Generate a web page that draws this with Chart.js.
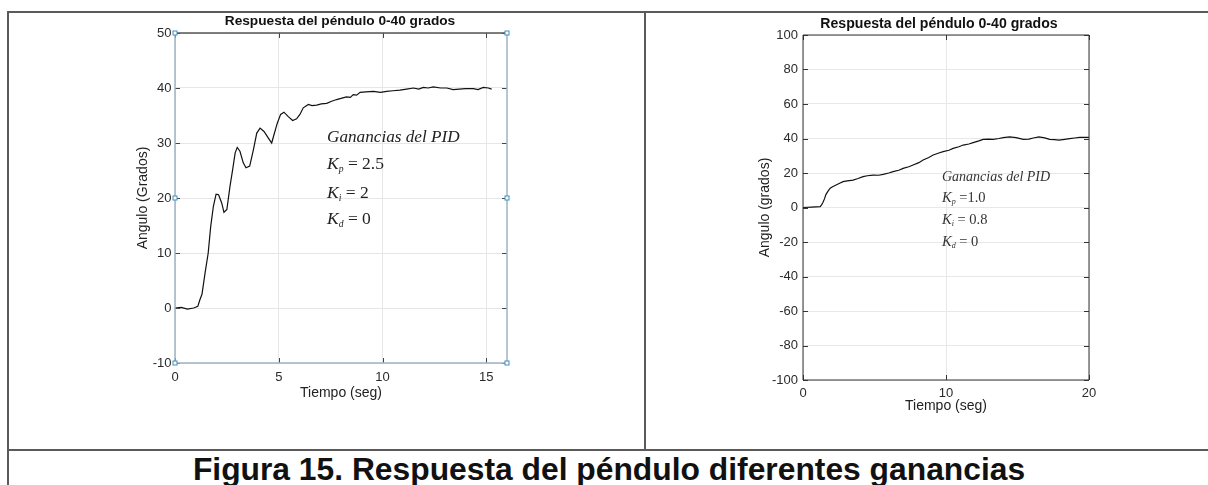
<!DOCTYPE html>
<html>
<head>
<meta charset="utf-8">
<script src="https://cdn.jsdelivr.net/npm/chart.js@4.4.0/dist/chart.umd.min.js"></script>
<style>
  body { margin: 0; background: #fff; width: 1208px; height: 485px; position: relative; overflow: hidden; font-family: "Liberation Sans", Arial, sans-serif; }
  .rule { position: absolute; background: #5a5a5a; }
  canvas { position: absolute; }
  .title { position: absolute; font-weight: bold; color: #111; white-space: nowrap; transform: translateX(-50%); line-height: 16px; }
  .gain { position: absolute; font-family: "Liberation Serif", "Times New Roman", serif; color: #222; white-space: nowrap; }
  .gain sub { font-size: 0.55em; font-style: italic; vertical-align: -0.3em; }
  .caption { position: absolute; left: 0; width: 1218px; top: 454px; text-align: center; font-weight: bold; font-size: 31.8px; line-height: 31.5px; color: #111; white-space: nowrap; }
</style>
</head>
<body>
<!-- page frame -->
<div class="rule" style="left:7px;top:11px;width:1201px;height:2px"></div>
<div class="rule" style="left:7px;top:11px;width:2px;height:474px"></div>
<div class="rule" style="left:644px;top:11px;width:2px;height:439px"></div>
<div class="rule" style="left:7px;top:449px;width:1201px;height:2px"></div>

<canvas id="leftChart" width="405" height="400" style="left:115px;top:12px"></canvas>
<canvas id="rightChart" width="380" height="420" style="left:740px;top:12px"></canvas>

<div class="title" style="left:340px;top:13px;font-size:13.7px">Respuesta del péndulo 0-40 grados</div>
<div class="title" style="left:939px;top:15px;font-size:14.1px">Respuesta del péndulo 0-40 grados</div>

<div class="gain" style="left:327px;top:127px;font-size:17.2px;line-height:20px"><i>Ganancias del PID</i></div>
<div class="gain" style="left:327px;top:153px;font-size:17.5px;line-height:20px"><i>K</i><sub>p</sub> = 2.5</div>
<div class="gain" style="left:327px;top:182px;font-size:17.5px;line-height:20px"><i>K</i><sub>i</sub> = 2</div>
<div class="gain" style="left:327px;top:208px;font-size:17.5px;line-height:20px"><i>K</i><sub>d</sub> = 0</div>

<div class="gain" style="left:942px;top:169px;font-size:14px;line-height:16px;color:#333"><i>Ganancias del PID</i></div>
<div class="gain" style="left:942px;top:189px;font-size:14.5px;line-height:16px;color:#333"><i>K</i><sub>p</sub> =1.0</div>
<div class="gain" style="left:942px;top:211px;font-size:14.5px;line-height:16px;color:#333"><i>K</i><sub>i</sub> = 0.8</div>
<div class="gain" style="left:942px;top:233px;font-size:14.5px;line-height:16px;color:#333"><i>K</i><sub>d</sub> = 0</div>

<div class="caption">Figura 15. Respuesta del péndulo diferentes ganancias</div>

<script>
// left plot: Kp=2.5, Ki=2, Kd=0
const leftTime = [0, 0.3, 0.6, 0.9, 1.1, 1.2, 1.3, 1.45, 1.6, 1.72, 1.85, 1.98, 2.1, 2.25, 2.36, 2.5, 2.65, 2.78, 2.9, 3.0,
  3.13, 3.29, 3.42, 3.6, 3.78, 3.94, 4.1, 4.29, 4.5, 4.66, 4.77, 4.93, 5.09, 5.25, 5.46, 5.67, 5.86, 6.02, 6.18, 6.43,
  6.6, 6.83, 7.05, 7.31, 7.55, 7.79, 8.0, 8.27, 8.45, 8.59, 8.75, 8.92, 9.2, 9.56, 9.9, 10.2, 10.5, 10.84, 11.16, 11.49,
  11.75, 11.97, 12.2, 12.45, 12.8, 13.1, 13.4, 13.7, 14.0, 14.38, 14.6, 14.86, 15.1, 15.26];
const leftAngle = [0, 0.1, -0.2, 0, 0.3, 1.5, 2.5, 6.4, 10, 14.8, 18.5, 20.7, 20.6, 19.1, 17.4, 17.9, 22.1, 25.2, 28.2, 29.2,
  28.5, 26.4, 25.5, 25.8, 28.8, 31.8, 32.7, 32.1, 30.9, 30.0, 31.5, 33.6, 35.2, 35.6, 34.8, 34.1, 34.4, 35.2, 36.4, 37.0,
  36.8, 36.9, 37.1, 37.2, 37.6, 37.9, 38.1, 38.4, 38.3, 38.8, 38.7, 39.2, 39.3, 39.4, 39.2, 39.4, 39.5, 39.6, 39.8, 40.0,
  39.8, 40.1, 40.0, 40.2, 40.0, 40.0, 39.7, 39.8, 39.9, 39.9, 39.7, 40.1, 40.0, 39.8];

// right plot: Kp=1.0, Ki=0.8, Kd=0
const rightTime = [0, 0.6, 1.2, 1.3, 1.4, 1.5, 1.6, 1.75, 1.9, 2.1, 2.35, 2.6, 2.8, 3.1, 3.5, 3.85, 4.2, 4.5, 4.9, 5.3,
  5.6, 6.0, 6.3, 6.7, 7.0, 7.4, 7.7, 8.1, 8.4, 8.8, 9.1, 9.5, 9.8, 10.2, 10.5, 10.9, 11.2, 11.6, 11.9, 12.3,
  12.6, 13.0, 13.3, 13.7, 14.0, 14.45, 14.9, 15.4, 15.8, 16.1, 16.5, 16.9, 17.25, 17.6, 17.9, 18.3, 18.65, 19.0, 19.35, 20];
const rightAngle = [0, 0.2, 0.5, 1.5, 3, 5, 7.5, 9.5, 11.2, 12.2, 13.2, 14.2, 15.0, 15.4, 15.9, 16.8, 17.9, 18.4, 18.8, 18.7,
  19.2, 20.0, 20.8, 21.6, 22.7, 23.6, 24.6, 26.0, 27.5, 29.0, 30.4, 31.6, 32.4, 33.2, 34.3, 35.2, 36.2, 36.8, 37.6, 38.6,
  39.5, 39.6, 39.5, 40.0, 40.5, 40.9, 40.5, 39.5, 39.6, 40.3, 40.9, 40.4, 39.5, 39.3, 39.1, 39.5, 39.9, 40.3, 40.7, 40.7];

const xTitle = 'Tiempo (seg)';
const leftYTitle = 'Angulo (Grados)';
const rightYTitle = 'Angulo (grados)';

// matlab style box: coloured sides, inward ticks, optional selection handles
const axesBox = {
    id: 'axesBox',
    afterDraw(chart, args, opts) {
        const { ctx, chartArea: a, scales: { x, y } } = chart;
        ctx.save();
        ctx.strokeStyle = opts.tickColor;
        ctx.lineWidth = 1;
        ctx.beginPath();
        x.ticks.forEach(t => {
            const px = Math.round(x.getPixelForValue(t.value)) + 0.5;
            ctx.moveTo(px, a.bottom); ctx.lineTo(px, a.bottom - opts.tickLen);
            ctx.moveTo(px, a.top); ctx.lineTo(px, a.top + opts.tickLen);
        });
        y.ticks.forEach(t => {
            const py = Math.round(y.getPixelForValue(t.value)) + 0.5;
            ctx.moveTo(a.left, py); ctx.lineTo(a.left + opts.tickLen, py);
            ctx.moveTo(a.right, py); ctx.lineTo(a.right - opts.tickLen, py);
        });
        ctx.stroke();

        const side = (color, x1, y1, x2, y2) => {
            ctx.strokeStyle = color;
            ctx.lineWidth = opts.lineWidth;
            ctx.beginPath(); ctx.moveTo(x1, y1); ctx.lineTo(x2, y2); ctx.stroke();
        };
        side(opts.top, a.left, a.top, a.right, a.top);
        side(opts.bottom, a.left, a.bottom, a.right, a.bottom);
        side(opts.left, a.left, a.top, a.left, a.bottom);
        side(opts.right, a.right, a.top, a.right, a.bottom);

        if (opts.handles) {
            const midY = y.getPixelForValue(opts.handles);
            ctx.strokeStyle = '#3d8fc4';
            ctx.fillStyle = '#fff';
            ctx.lineWidth = 1;
            [[a.left, a.top], [a.right, a.top], [a.left, a.bottom], [a.right, a.bottom], [a.left, midY], [a.right, midY]]
                .forEach(([hx, hy]) => { ctx.fillRect(hx - 2, hy - 2, 4, 4); ctx.strokeRect(hx - 2, hy - 2, 4, 4); });
        }
        ctx.restore();
    }
};

function makeChart(id, times, angles, cfg) {
    return new Chart(document.getElementById(id), {
        type: 'line',
        data: {
            datasets: [{
                data: times.map((t, i) => ({ x: t, y: angles[i] })),
                borderColor: '#111',
                borderWidth: 1.2,
                pointRadius: 0,
                tension: 0
            }]
        },
        options: {
            responsive: false,
            animation: false,
            layout: { padding: { left: 0, top: cfg.padTop, right: cfg.padRight, bottom: 0 } },
            plugins: {
                legend: { display: false },
                tooltip: { enabled: false },
                axesBox: cfg.box
            },
            scales: {
                x: {
                    type: 'linear',
                    min: cfg.xMin, max: cfg.xMax,
                    afterFit: s => { s.height = cfg.xHeight; },
                    grid: { color: cfg.gridColor, drawTicks: false, tickLength: 0 },
                    border: { display: false },
                    ticks: { stepSize: cfg.xStep, includeBounds: false, padding: cfg.xTickPad, color: '#2a2a2a', font: { size: 13 } },
                    title: { display: true, text: xTitle, color: '#222', font: { size: 14 }, padding: { top: 0, bottom: cfg.xTitlePad } }
                },
                y: {
                    min: cfg.yMin, max: cfg.yMax,
                    afterFit: s => { s.width = cfg.yWidth; },
                    grid: { color: cfg.gridColor, drawTicks: false, tickLength: 0 },
                    border: { display: false },
                    ticks: { stepSize: cfg.yStep, padding: cfg.yTickPad, color: '#2a2a2a', font: { size: 13 } },
                    title: { display: true, text: cfg.yTitle, color: '#222', font: { size: 14 }, padding: { top: cfg.yTitlePad, bottom: 0 } }
                }
            }
        },
        plugins: [axesBox]
    });
}

Chart.defaults.font.family = '"Liberation Sans", Arial, sans-serif';

makeChart('leftChart', leftTime, leftAngle, {
    padTop: 21, padRight: 13, xHeight: 49, yWidth: 60,
    xMin: 0, xMax: 16, xStep: 5, yMin: -10, yMax: 50, yStep: 10,
    xTickPad: 7, xTitlePad: 10.6, yTickPad: 3.5, yTitlePad: 19.6,
    gridColor: '#e6e6e6', yTitle: leftYTitle,
    box: { top: '#555', bottom: '#9fb3c2', left: '#9fb3c2', right: '#9fb3c2', lineWidth: 1.5, tickColor: '#444', tickLen: 5, handles: 20 }
});

makeChart('rightChart', rightTime, rightAngle, {
    padTop: 23, padRight: 31, xHeight: 52, yWidth: 63,
    xMin: 0, xMax: 20, xStep: 10, yMin: -100, yMax: 100, yStep: 20,
    xTickPad: 5.2, xTitlePad: 17.6, yTickPad: 5, yTitlePad: 16.6,
    gridColor: '#e8e8e8', yTitle: rightYTitle,
    box: { top: '#333', bottom: '#333', left: '#333', right: '#333', lineWidth: 1, tickColor: '#333', tickLen: 5, handles: null }
});
</script>
</body>
</html>
